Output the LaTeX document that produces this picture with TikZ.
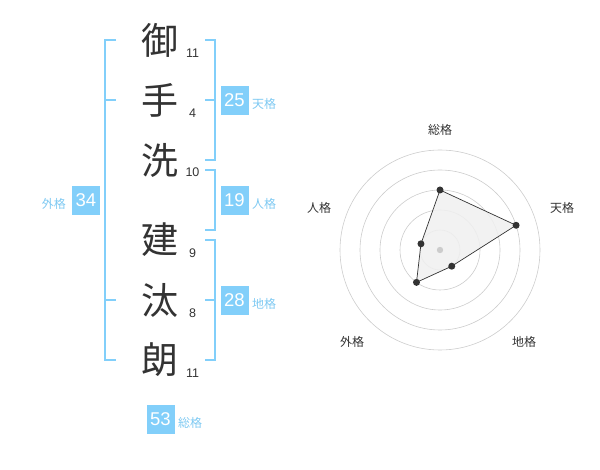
\documentclass[tikz,border=0pt]{standalone}
\usepackage{fontspec}
\setmainfont{Liberation Sans}
\newfontfamily\cjk{Noto Sans CJK JP}
\definecolor{ink}{HTML}{333333}
\definecolor{sky}{HTML}{82CFFA}
\definecolor{skytext}{HTML}{7EC9F2}
\definecolor{ringgrey}{HTML}{CCCCCC}
\definecolor{polyfill}{HTML}{F0F0F0}
\tikzset{
  kanji/.style={text=ink, inner sep=0pt, font=\cjk\fontsize{37}{37}\selectfont},
  strokes/.style={text=ink, inner sep=0pt, font=\fontsize{12.5}{12.5}\selectfont},
  valbox/.style={fill=sky, text=white, minimum width=28pt, minimum height=29pt, inner sep=0pt, font=\fontsize{18.5}{18.5}\selectfont},
  vallabel/.style={text=skytext, inner sep=0pt, font=\cjk\fontsize{12}{12}\selectfont},
  bracket/.style={draw=sky, line width=2pt},
  ring/.style={draw=ringgrey, line width=0.6pt},
  axislabel/.style={text=ink, inner sep=0pt, font=\cjk\fontsize{12}{12}\selectfont},
  dot/.style={circle, fill=ink, inner sep=0pt, minimum size=7pt},
}
\begin{document}
\begin{tikzpicture}[x=1pt,y=-1pt]
\useasboundingbox (0,0) rectangle (600,470);
% kanji
\node[kanji] (k1) at (160,40) {御};
\node[kanji] (k2) at (160,100) {手};
\node[kanji] (k3) at (160,160) {洗};
\node[kanji] (k4) at (160,240) {建};
\node[kanji] (k5) at (160,300) {汰};
\node[kanji] (k6) at (160,360) {朗};
% stroke counts
\node[strokes] (s1) at (192.5,53) {11};
\node[strokes] (s2) at (192.5,113) {4};
\node[strokes] (s3) at (192.5,172) {10};
\node[strokes] (s4) at (192.5,253) {9};
\node[strokes] (s5) at (192.5,313) {8};
\node[strokes] (s6) at (192.5,373) {11};
% left bracket (外格)
\coordinate (la) at (105,40);
\coordinate (lb) at (105,360);
\draw[bracket] (116,40) -- (la) -- (lb) -- (116,360);
\draw[bracket] (105,100) -- (116,100);
\draw[bracket] (105,300) -- (116,300);
% right bracket 天格
\draw[bracket] (205,40) -- (215,40) -- (215,160) -- (205,160);
\draw[bracket] (205,100) -- (215,100);
% right bracket 人格
\draw[bracket] (205,170) -- (215,170) -- (215,230) -- (205,230);
% right bracket 地格
\draw[bracket] (205,240) -- (215,240) -- (215,360) -- (205,360);
\draw[bracket] (205,300) -- (215,300);
% value boxes
\node[valbox] (b25) at (234.5,100.5) {25};
\node[vallabel, anchor=west] (l25) at (252,104) {天格};
\node[valbox] (b19) at (234.5,200.5) {19};
\node[vallabel, anchor=west] (l19) at (252,204) {人格};
\node[valbox] (b28) at (234.5,300.5) {28};
\node[vallabel, anchor=west] (l28) at (252,304) {地格};
\node[valbox] (b34) at (86,200.5) {34};
\node[vallabel, anchor=east] (l34) at (66,204) {外格};
\node[valbox] (b53) at (160.5,419) {53};
\node[vallabel, anchor=west] (l53) at (178,423) {総格};
% radar chart
\begin{scope}[shift={(440,250)}, y=1pt]
  \foreach \r in {20,40,60,80,100} \draw[ring] (0,0) circle (\r);
  \coordinate (pS) at (90:60);
  \coordinate (pT) at (18:80);
  \coordinate (pC) at (-54:20);
  \coordinate (pG) at (-126:40);
  \coordinate (pJ) at (162:20);
  \filldraw[fill=polyfill, fill opacity=0.85, draw=ink, line width=0.7pt] (pS) -- (pT) -- (pC) -- (pG) -- (pJ) -- cycle;
  \fill[ringgrey] (0,0) circle (3.2);
  \foreach \p in {pS,pT,pC,pG,pJ} \node[dot] at (\p) {};
\end{scope}
\node[axislabel] (aS) at (440,130) {総格};
\node[axislabel] (aT) at (562,208) {天格};
\node[axislabel] (aJ) at (319,208) {人格};
\node[axislabel] (aG) at (352,342) {外格};
\node[axislabel] (aC) at (524,342) {地格};
\end{tikzpicture}
\end{document}
